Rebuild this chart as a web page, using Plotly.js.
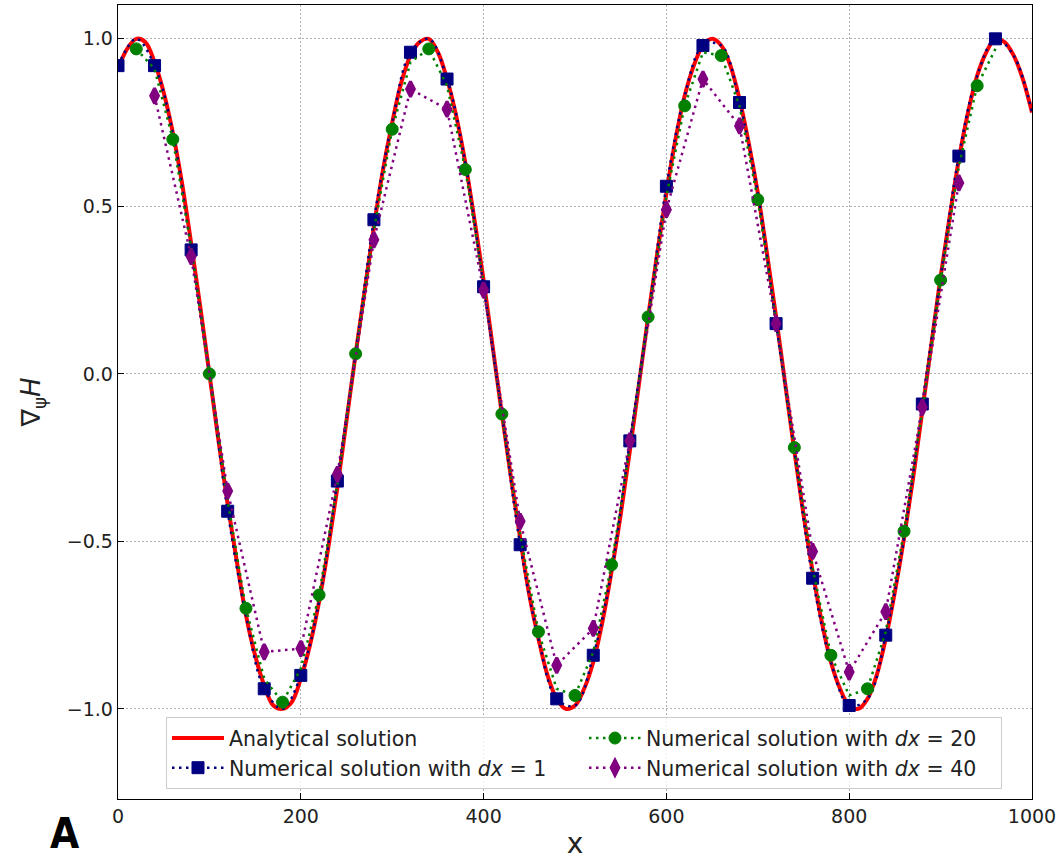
<!DOCTYPE html>
<html>
<head>
<meta charset="utf-8">
<script src="https://cdn.plot.ly/plotly-3.0.1.min.js"></script>
<style>
  html, body { margin: 0; padding: 0; background: #ffffff; }
  #chart { width: 1061px; height: 860px; }
</style>
</head>
<body>
<div id="chart"></div>
<script>
// Analytical gradient, sampled every 10 units of x
const xAnalytical = [
  0, 10, 20, 30, 40, 50, 60, 70, 80, 90,
  100, 110, 120, 130, 140, 150, 160, 170, 180, 190,
  200, 210, 220, 230, 240, 250, 260, 270, 280, 290,
  300, 310, 320, 330, 340, 350, 360, 370, 380, 390,
  400, 410, 420, 430, 440, 450, 460, 470, 480, 490,
  500, 510, 520, 530, 540, 550, 560, 570, 580, 590,
  600, 610, 620, 630, 640, 650, 660, 670, 680, 690,
  700, 710, 720, 730, 740, 750, 760, 770, 780, 790,
  800, 810, 820, 830, 840, 850, 860, 870, 880, 890,
  900, 910, 920, 930, 940, 950, 960, 970, 980, 990, 1000
];
const yAnalytical = [
  0.91, 0.97, 1.00, 0.99, 0.93, 0.84, 0.72, 0.57, 0.39, 0.20,
  0.00, -0.20, -0.39, -0.56, -0.72, -0.84, -0.93, -0.99, -1.00, -0.98,
  -0.91, -0.81, -0.68, -0.52, -0.34, -0.14, 0.06, 0.25, 0.44, 0.61,
  0.75, 0.87, 0.95, 0.99, 1.00, 0.96, 0.88, 0.77, 0.63, 0.46,
  0.28, 0.08, -0.12, -0.31, -0.49, -0.66, -0.79, -0.90, -0.97, -1.00,
  -0.99, -0.94, -0.86, -0.74, -0.59, -0.42, -0.23, -0.03, 0.17, 0.36,
  0.54, 0.70, 0.83, 0.92, 0.98, 1.00, 0.98, 0.92, 0.82, 0.69,
  0.54, 0.36, 0.17, -0.03, -0.23, -0.42, -0.59, -0.74, -0.86, -0.94,
  -0.99, -1.00, -0.97, -0.90, -0.79, -0.65, -0.49, -0.31, -0.11, 0.09,
  0.29, 0.47, 0.64, 0.78, 0.89, 0.96, 1.00, 0.99, 0.95, 0.88, 0.78
];

// Numerical solution, dx = 1 (shown every 20 units, marked every 40)
const xDx1 = [
  0, 20, 40, 60, 80, 100, 120, 140, 160, 180,
  200, 220, 240, 260, 280, 300, 320, 340, 360, 380,
  400, 420, 440, 460, 480, 500, 520, 540, 560, 580,
  600, 620, 640, 660, 680, 700, 720, 740, 760, 780,
  800, 820, 840, 860, 880, 900, 920, 940, 960, 980, 1000
];
const yDx1 = [
  0.92, 1.00, 0.92, 0.72, 0.37, 0.00, -0.41, -0.72, -0.94, -1.00,
  -0.90, -0.68, -0.32, 0.06, 0.46, 0.75, 0.96, 1.00, 0.88, 0.63,
  0.26, -0.12, -0.51, -0.79, -0.97, -0.99, -0.84, -0.59, -0.20, 0.17,
  0.56, 0.83, 0.98, 0.98, 0.81, 0.54, 0.15, -0.23, -0.61, -0.86,
  -0.99, -0.97, -0.78, -0.49, -0.09, 0.29, 0.65, 0.89, 1.00, 0.95, 0.78
];
const markEveryDx1 = 40;

// Numerical solution, dx = 20 (marked every other node)
const xDx20 = [
  20, 40, 60, 80, 100, 120, 140, 160, 180, 200,
  220, 240, 260, 280, 300, 320, 340, 360, 380, 400,
  420, 440, 460, 480, 500, 520, 540, 560, 580, 600,
  620, 640, 660, 680, 700, 720, 740, 760, 780, 800,
  820, 840, 860, 880, 900, 920, 940, 960
];
const yDx20 = [
  0.97, 0.91, 0.70, 0.38, 0.00, -0.38, -0.70, -0.91, -0.98, -0.88,
  -0.66, -0.33, 0.06, 0.43, 0.73, 0.93, 0.97, 0.86, 0.61, 0.27,
  -0.12, -0.48, -0.77, -0.94, -0.96, -0.83, -0.57, -0.22, 0.17, 0.53,
  0.80, 0.96, 0.95, 0.80, 0.52, 0.16, -0.22, -0.58, -0.84, -0.96,
  -0.94, -0.77, -0.47, -0.11, 0.28, 0.62, 0.86, 0.97
];

// Numerical solution, dx = 40
const xDx40 = [
  40, 80, 120, 160, 200, 240, 280, 320, 360, 400,
  440, 480, 520, 560, 600, 640, 680, 720, 760, 800,
  840, 880, 920
];
const yDx40 = [
  0.83, 0.35, -0.35, -0.83, -0.82, -0.30, 0.40, 0.85, 0.79, 0.25,
  -0.44, -0.87, -0.76, -0.20, 0.49, 0.88, 0.74, 0.15, -0.53, -0.89,
  -0.71, -0.10, 0.57
];

const xTicks = [0, 200, 400, 600, 800, 1000];
const yTicks = [-1.0, -0.5, 0.0, 0.5, 1.0];

const labels = {
  analytical: 'Analytical solution',
  dx1: 'Numerical solution with <i>dx</i> = 1',
  dx20: 'Numerical solution with <i>dx</i> = 20',
  dx40: 'Numerical solution with <i>dx</i> = 40'
};

const RED = '#ff0000', NAVY = '#000080', GREEN = '#008000', PURPLE = '#800080';
const DOTS = '2.5px,4.5px';

// pick the nodes that carry a marker
function pick(xs, ys, keep) {
  const px = [], py = [];
  xs.forEach((x, i) => { if (keep(x, i)) { px.push(x); py.push(ys[i]); } });
  return { x: px, y: py };
}
const dx1Marks = pick(xDx1, yDx1, x => x % markEveryDx1 === 0 && x < 1000);
const dx20Marks = pick(xDx20, yDx20, (x, i) => i % 2 === 0);

const squareMarker = { symbol: 'square', size: 12, color: NAVY, line: { color: NAVY, width: 1 } };
const circleMarker = { symbol: 'circle', size: 12, color: GREEN, line: { color: GREEN, width: 1 } };
const diamondMarker = { symbol: 'diamond-tall', size: 11, color: PURPLE, line: { color: PURPLE, width: 3 } };

const traces = [
  { x: xAnalytical, y: yAnalytical, type: 'scatter', mode: 'lines',
    line: { color: RED, width: 4, shape: 'spline' },
    name: labels.analytical, legendrank: 1 },

  // dx = 1
  { x: xDx1, y: yDx1, type: 'scatter', mode: 'lines',
    line: { color: NAVY, width: 2.5, dash: DOTS, shape: 'spline' },
    showlegend: false, hoverinfo: 'skip' },
  { x: dx1Marks.x, y: dx1Marks.y, type: 'scatter', mode: 'markers',
    marker: squareMarker, showlegend: false },
  { x: [null], y: [null], type: 'scatter', mode: 'lines+markers',
    line: { color: NAVY, width: 2.5, dash: DOTS }, marker: squareMarker,
    name: labels.dx1, legendrank: 3 },

  // dx = 20
  { x: xDx20, y: yDx20, type: 'scatter', mode: 'lines',
    line: { color: GREEN, width: 2.5, dash: DOTS },
    showlegend: false, hoverinfo: 'skip' },
  { x: dx20Marks.x, y: dx20Marks.y, type: 'scatter', mode: 'markers',
    marker: circleMarker, showlegend: false },
  { x: [null], y: [null], type: 'scatter', mode: 'lines+markers',
    line: { color: GREEN, width: 2.5, dash: DOTS }, marker: circleMarker,
    name: labels.dx20, legendrank: 2 },

  // dx = 40
  { x: xDx40, y: yDx40, type: 'scatter', mode: 'lines+markers',
    line: { color: PURPLE, width: 2.5, dash: DOTS }, marker: diamondMarker,
    name: labels.dx40, legendrank: 4 }
];

const axisCommon = {
  ticks: 'inside', ticklen: 6, tickwidth: 1.2, tickcolor: '#000',
  showline: true, linecolor: '#000', linewidth: 1.3, mirror: true,
  showgrid: true, gridcolor: '#b0b0b0', gridwidth: 1, griddash: '1.5px,2.5px',
  zeroline: false, tickfont: { size: 19, color: '#222' }
};

const layout = {
  width: 1061, height: 860,
  margin: { l: 118, r: 29, t: 5, b: 61 },
  paper_bgcolor: '#ffffff', plot_bgcolor: '#ffffff',
  font: { family: 'DejaVu Sans, sans-serif', size: 19, color: '#000' },
  xaxis: Object.assign({}, axisCommon, {
    range: [0, 1000], tickvals: xTicks, ticktext: xTicks.map(String),
    title: { text: 'x', font: { size: 28, color: '#222' }, standoff: 10 }
  }),
  yaxis: Object.assign({}, axisCommon, {
    range: [-1.269, 1.101], tickvals: yTicks, tickformat: '.1f',
    title: { text: '∇<sub>ψ</sub><i>H</i>', font: { size: 26, color: '#222' }, standoff: 18 }
  }),
  legend: {
    orientation: 'h', x: 0.0525, xanchor: 'left', y: 0.103, yanchor: 'top',
    bgcolor: 'rgba(255,255,255,0.8)', bordercolor: '#cccccc', borderwidth: 1,
    font: { size: 20.5, color: '#222' }, itemwidth: 52,
    entrywidth: 350, entrywidthmode: 'pixels', traceorder: 'normal'
  },
  annotations: [{
    text: '<b>A</b>', xref: 'paper', yref: 'paper', x: -0.0585, y: -0.0768,
    xanchor: 'center', yanchor: 'bottom', showarrow: false,
    font: { family: 'Liberation Sans Narrow, DejaVu Sans Condensed, sans-serif', size: 42, color: '#000' }
  }],
  showlegend: true
};

Plotly.newPlot('chart', traces, layout, { displayModeBar: false, staticPlot: true });
</script>
</body>
</html>
